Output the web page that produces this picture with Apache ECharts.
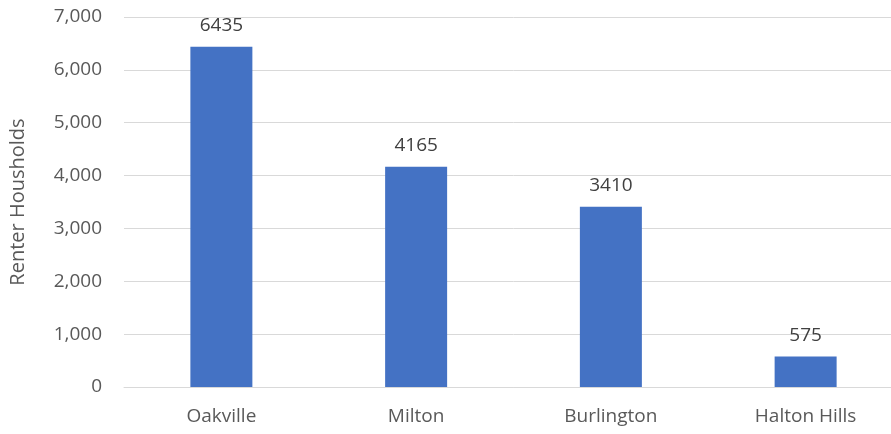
<!DOCTYPE html>
<html>
<head>
<meta charset="utf-8">
<script src="https://cdn.jsdelivr.net/npm/echarts@6/dist/echarts.min.js"></script>
<style>
html,body{margin:0;padding:0;background:#fff;overflow:hidden;width:891px;height:434px;}
#chart{width:903px;height:434px;}
</style>
</head>
<body>
<div id="chart"></div>
<script>
var categories = ["Oakville", "Milton", "Burlington", "Halton Hills"];
var renterHouseholds = [6435, 4165, 3410, 575];
var yAxisTitle = "Renter Housholds";

var chart = echarts.init(document.getElementById('chart'), null, {renderer: 'canvas'});
var font = "'Open Sans', 'Liberation Sans', sans-serif";
chart.setOption({
  animation: false,
  backgroundColor: '#ffffff',
  grid: {left: 122, top: 17, bottom: 47, right: 0},
  xAxis: {
    type: 'category',
    data: categories,
    axisLine: {show: true, lineStyle: {color: '#d9d9d9', width: 1}},
    axisTick: {show: false},
    axisLabel: {color: '#595959', fontSize: 19, fontFamily: font, margin: 20}
  },
  yAxis: {
    type: 'value',
    min: 0, max: 7000, interval: 1000,
    name: yAxisTitle,
    nameLocation: 'middle',
    nameGap: 96,
    nameTextStyle: {color: '#595959', fontSize: 20, fontFamily: font},
    axisLine: {show: false},
    axisTick: {show: false},
    splitLine: {lineStyle: {color: '#d9d9d9', width: 1}},
    axisLabel: {
      color: '#595959', fontSize: 19, fontFamily: font, margin: 22,
      formatter: function (v) { return v.toLocaleString('en-US'); }
    }
  },
  series: [{
    type: 'bar',
    data: renterHouseholds,
    barWidth: 62,
    itemStyle: {color: '#4472C4'},
    label: {show: true, position: 'top', distance: 12, color: '#404040', fontSize: 19, fontFamily: font}
  }]
});
</script>
</body>
</html>
